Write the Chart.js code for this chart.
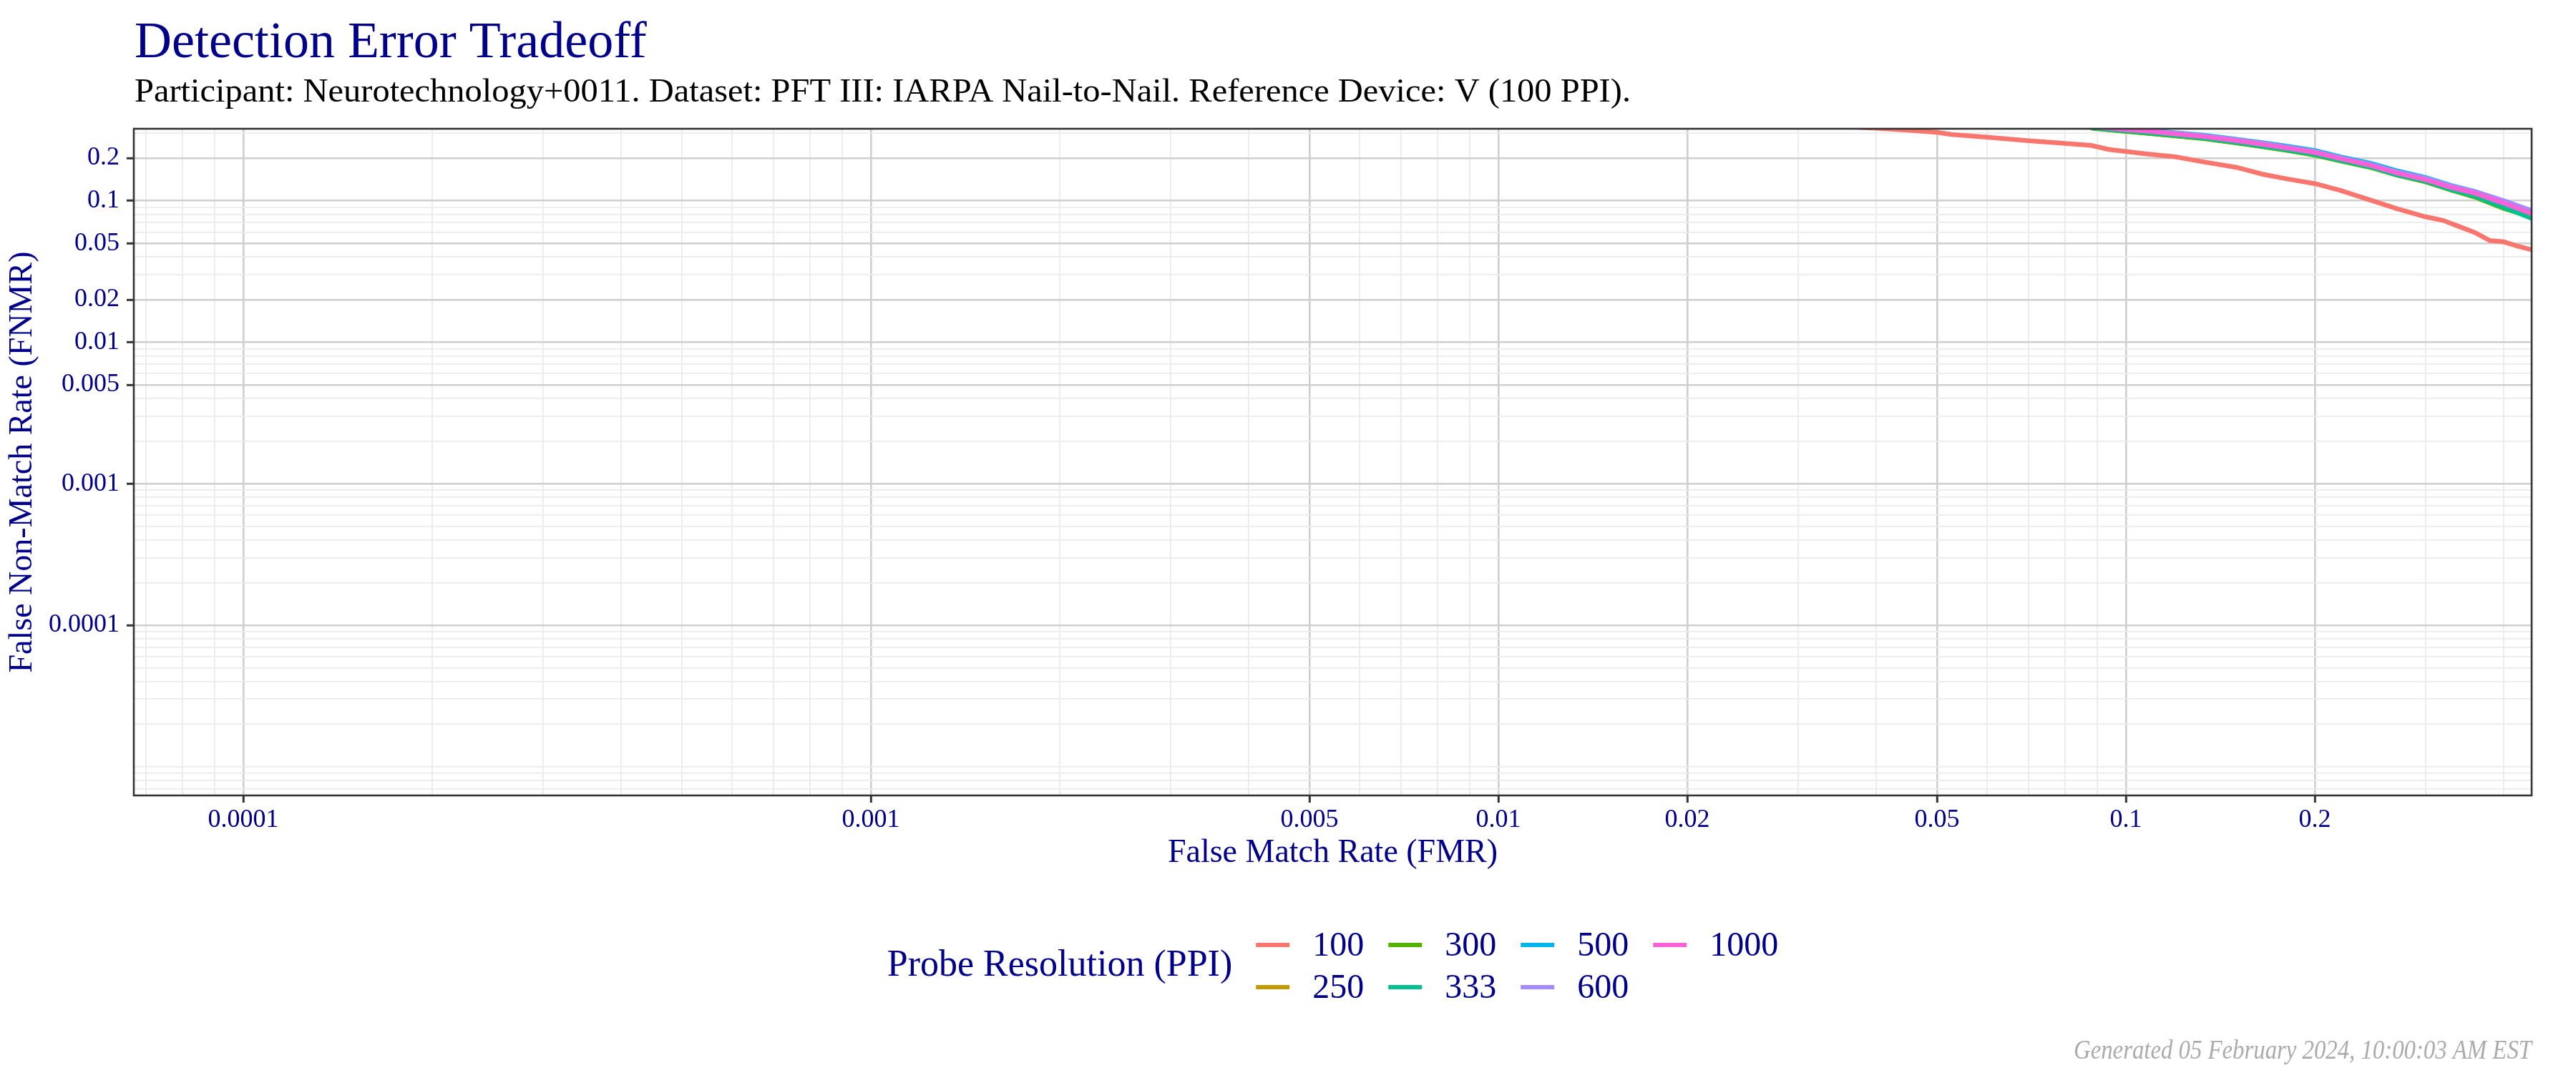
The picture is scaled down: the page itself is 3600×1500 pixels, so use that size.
<!DOCTYPE html>
<html>
<head>
<meta charset="utf-8">
<script src="https://cdn.jsdelivr.net/npm/chart.js@4.4.1/dist/chart.umd.min.js"></script>
<style>
  html, body { margin: 0; padding: 0; background: #ffffff; }
  #wrap { width: 3600px; height: 1500px; }
</style>
</head>
<body>
<div id="wrap"><canvas id="det" width="3600" height="1500"></canvas></div>
<script>
// DET curve, one line per probe resolution

const PPI_LEVELS = ['100', '250', '300', '333', '500', '600', '1000'];
const PPI_COLORS = ['#F8766D', '#C49A00', '#53B400', '#00C094', '#00B6EB', '#A58AFF', '#FB61D7'];

const X_TICKS = [0.0001, 0.001, 0.005, 0.01, 0.02, 0.05, 0.1, 0.2];
const X_TICK_LABELS = ['0.0001', '0.001', '0.005', '0.01', '0.02', '0.05', '0.1', '0.2'];
const Y_TICKS = [0.0001, 0.001, 0.005, 0.01, 0.02, 0.05, 0.1, 0.2];
const Y_TICK_LABELS = ['0.0001', '0.001', '0.005', '0.01', '0.02', '0.05', '0.1', '0.2'];

// 100 PPI probe
const FMR_100 = [0.035, 0.04, 0.045, 0.05, 0.0527, 0.06, 0.07, 0.08, 0.088, 0.094, 0.1, 0.108, 0.12, 0.133,
  0.15, 0.165, 0.18, 0.2, 0.22, 0.245, 0.27, 0.3, 0.32, 0.34, 0.36, 0.38, 0.4, 0.42, 0.443];
const FNMR_100 = [0.335, 0.325, 0.315, 0.304, 0.294, 0.281, 0.265, 0.254, 0.246, 0.230, 0.223, 0.214, 0.204, 0.188,
  0.172, 0.154, 0.143, 0.132, 0.118, 0.101, 0.088, 0.077, 0.0726, 0.0655, 0.0595, 0.0523, 0.0512, 0.0478, 0.045];

// higher resolutions share one FMR grid
const FMR_HI = [0.088, 0.094, 0.1, 0.108, 0.12, 0.133, 0.15, 0.165, 0.18, 0.2, 0.22, 0.245, 0.27, 0.3, 0.33, 0.36, 0.4, 0.443];
const FNMR_250 = [0.327, 0.318, 0.310, 0.301, 0.288, 0.276, 0.257, 0.242, 0.228, 0.211, 0.192, 0.173, 0.152, 0.137, 0.119, 0.107, 0.089, 0.076];
const FNMR_300 = [0.326, 0.317, 0.309, 0.300, 0.287, 0.275, 0.256, 0.241, 0.227, 0.210, 0.191, 0.172, 0.152, 0.136, 0.119, 0.106, 0.088, 0.077];
const FNMR_333 = [0.328, 0.320, 0.312, 0.303, 0.290, 0.278, 0.259, 0.244, 0.230, 0.213, 0.193, 0.174, 0.153, 0.138, 0.120, 0.108, 0.090, 0.075];
const FNMR_500 = [0.338, 0.330, 0.323, 0.315, 0.302, 0.290, 0.272, 0.257, 0.243, 0.226, 0.204, 0.184, 0.163, 0.146, 0.128, 0.116, 0.099, 0.083];
const FNMR_600 = [0.336, 0.328, 0.321, 0.313, 0.300, 0.288, 0.270, 0.255, 0.240, 0.223, 0.201, 0.181, 0.160, 0.144, 0.127, 0.116, 0.100, 0.085];
const FNMR_1000 = [0.333, 0.325, 0.318, 0.310, 0.296, 0.284, 0.265, 0.250, 0.236, 0.219, 0.198, 0.178, 0.157, 0.141, 0.124, 0.113, 0.096, 0.081];

const SERIES = [
  [FMR_100, FNMR_100],
  [FMR_HI, FNMR_250],
  [FMR_HI, FNMR_300],
  [FMR_HI, FNMR_333],
  [FMR_HI, FNMR_500],
  [FMR_HI, FNMR_600],
  [FMR_HI, FNMR_1000]
];

const X_MIN = 6.69e-5, X_MAX = 0.443;
const Y_MIN = 6.26e-6, Y_MAX = 0.3224;

const SERIF = "'Liberation Serif', 'DejaVu Serif', serif";
const NAVY = '#00008B';

// log grid: every k*10^n inside the range, labels only on the listed ticks
function logGrid(min, max) {
  const out = [];
  for (let n = -6; n <= 0; n++) {
    for (let k = 1; k <= 9; k++) {
      const v = parseFloat((k * Math.pow(10, n)).toPrecision(6));
      if (v >= min && v <= max) out.push(v);
    }
  }
  return out;
}

function gridOptions(majors) {
  const isMajor = (ctx) => ctx.tick && majors.includes(ctx.tick.value);
  return {
    color: (ctx) => isMajor(ctx) ? '#cfcfcf' : '#ebebeb',
    lineWidth: (ctx) => isMajor(ctx) ? 2.6 : 1.8,
    tickColor: (ctx) => isMajor(ctx) ? '#333333' : 'rgba(0,0,0,0)',
    tickWidth: 3,
    tickLength: 10,
    drawTicks: true
  };
}

// draw text stretched/squeezed so it spans the given width (serif here is not Palatino)
function fitText(ctx, text, x, y, width) {
  const w = ctx.measureText(text).width;
  ctx.save();
  ctx.translate(x, y);
  ctx.scale(width / w, 1);
  ctx.fillText(text, 0, 0);
  ctx.restore();
}

const datasets = SERIES.map(([xs, ys], i) => ({
  label: PPI_LEVELS[i],
  data: xs.map((x, j) => ({ x: x, y: ys[j] })),
  borderColor: PPI_COLORS[i],
  backgroundColor: PPI_COLORS[i],
  borderWidth: 6.5,
  pointRadius: 0,
  tension: 0,
  fill: false,
  clip: 0,
  order: SERIES.length - 1 - i // later levels on top, like ggplot
}));

// titles, footer, panel border and the 2-row legend
const chromePlugin = {
  id: 'chrome',
  afterDatasetsDraw(chart) {
    const { ctx, chartArea } = chart;
    ctx.save();
    ctx.strokeStyle = '#333333';
    ctx.lineWidth = 2.6;
    ctx.strokeRect(chartArea.left, chartArea.top, chartArea.right - chartArea.left, chartArea.bottom - chartArea.top);
    ctx.restore();
  },
  afterDraw(chart) {
    const { ctx, chartArea } = chart;
    ctx.save();
    ctx.textBaseline = 'alphabetic';
    ctx.textAlign = 'left';

    ctx.fillStyle = NAVY;
    ctx.font = '72px ' + SERIF;
    ctx.fillText('Detection Error Tradeoff', 188, 80);

    ctx.fillStyle = '#000000';
    ctx.font = '46px ' + SERIF;
    fitText(ctx, 'Participant: Neurotechnology+0011. Dataset: PFT III: IARPA Nail-to-Nail. Reference Device: V (100 PPI).', 188, 142, 2091);

    ctx.fillStyle = '#ababab';
    ctx.font = 'italic 37px ' + SERIF;
    fitText(ctx, 'Generated 05 February 2024, 10:00:03 AM EST', 2898, 1480, chartArea.right - 2898);

    // legend: title on the left, keys filled column by column, 2 rows
    const rows = 2;
    const rowY = [1321, 1380];
    const keyW = 47, keyGap = 32, colGap = 34, titleGap = 33;
    const dsets = chart.data.datasets;
    const nCols = Math.ceil(dsets.length / rows);

    ctx.font = '52px ' + SERIF;
    const titleText = 'Probe Resolution (PPI)';
    const titleW = ctx.measureText(titleText).width;

    ctx.font = '48px ' + SERIF;
    const colW = [];
    for (let c = 0; c < nCols; c++) {
      let w = 0;
      for (let r = 0; r < rows; r++) {
        const d = dsets[c * rows + r];
        if (d) w = Math.max(w, ctx.measureText(d.label).width);
      }
      colW.push(w);
    }
    let total = titleW + titleGap;
    colW.forEach((w, c) => { total += keyW + keyGap + w + (c < nCols - 1 ? colGap : 0); });
    let x0 = (chartArea.left + chartArea.right) / 2 - total / 2;

    ctx.textAlign = 'left';
    ctx.textBaseline = 'middle';
    ctx.fillStyle = NAVY;
    ctx.font = '52px ' + SERIF;
    ctx.fillText(titleText, x0, (rowY[0] + rowY[1]) / 2);
    let cx = x0 + titleW + titleGap;

    ctx.font = '48px ' + SERIF;
    for (let c = 0; c < nCols; c++) {
      for (let r = 0; r < rows; r++) {
        const d = dsets[c * rows + r];
        if (!d) continue;
        ctx.strokeStyle = d.borderColor;
        ctx.lineWidth = 6;
        ctx.beginPath();
        ctx.moveTo(cx, rowY[r]);
        ctx.lineTo(cx + keyW, rowY[r]);
        ctx.stroke();
        ctx.fillStyle = NAVY;
        ctx.fillText(d.label, cx + keyW + keyGap, rowY[r] + 2);
      }
      cx += keyW + keyGap + colW[c] + colGap;
    }
    ctx.restore();
  }
};

new Chart(document.getElementById('det'), {
  type: 'line',
  data: { datasets: datasets },
  plugins: [chromePlugin],
  options: {
    responsive: false,
    devicePixelRatio: 1,
    animation: false,
    parsing: true,
    layout: { padding: { top: 180, right: 62, bottom: 279, left: 0 } },
    plugins: {
      legend: { display: false },
      tooltip: { enabled: false },
      title: { display: false }
    },
    scales: {
      x: {
        type: 'logarithmic',
        min: X_MIN,
        max: X_MAX,
        afterBuildTicks: (scale) => { scale.ticks = logGrid(X_MIN, X_MAX).map(v => ({ value: v })); },
        afterFit: (scale) => { scale.height = 109; },
        grid: gridOptions(X_TICKS),
        border: { display: false },
        ticks: {
          autoSkip: false,
          maxRotation: 0,
          padding: 3,
          color: NAVY,
          font: { family: SERIF, size: 36 },
          callback: (v) => {
            const i = X_TICKS.indexOf(v);
            return i >= 0 ? X_TICK_LABELS[i] : '';
          }
        },
        title: {
          display: true,
          text: 'False Match Rate (FMR)',
          color: NAVY,
          font: { family: SERIF, size: 46 },
          padding: { top: 0, bottom: 0 }
        }
      },
      y: {
        type: 'logarithmic',
        min: Y_MIN,
        max: Y_MAX,
        afterBuildTicks: (scale) => { scale.ticks = logGrid(Y_MIN, Y_MAX).map(v => ({ value: v })); },
        afterFit: (scale) => { scale.width = 187; },
        grid: gridOptions(Y_TICKS),
        border: { display: false },
        ticks: {
          autoSkip: false,
          padding: 10,
          color: NAVY,
          font: { family: SERIF, size: 36 },
          callback: (v) => {
            const i = Y_TICKS.indexOf(v);
            return i >= 0 ? Y_TICK_LABELS[i] : '';
          }
        },
        title: {
          display: true,
          text: 'False Non-Match Rate (FNMR)',
          color: NAVY,
          font: { family: SERIF, size: 46 },
          padding: { top: 4, bottom: 0 }
        }
      }
    }
  }
});
</script>
</body>
</html>
